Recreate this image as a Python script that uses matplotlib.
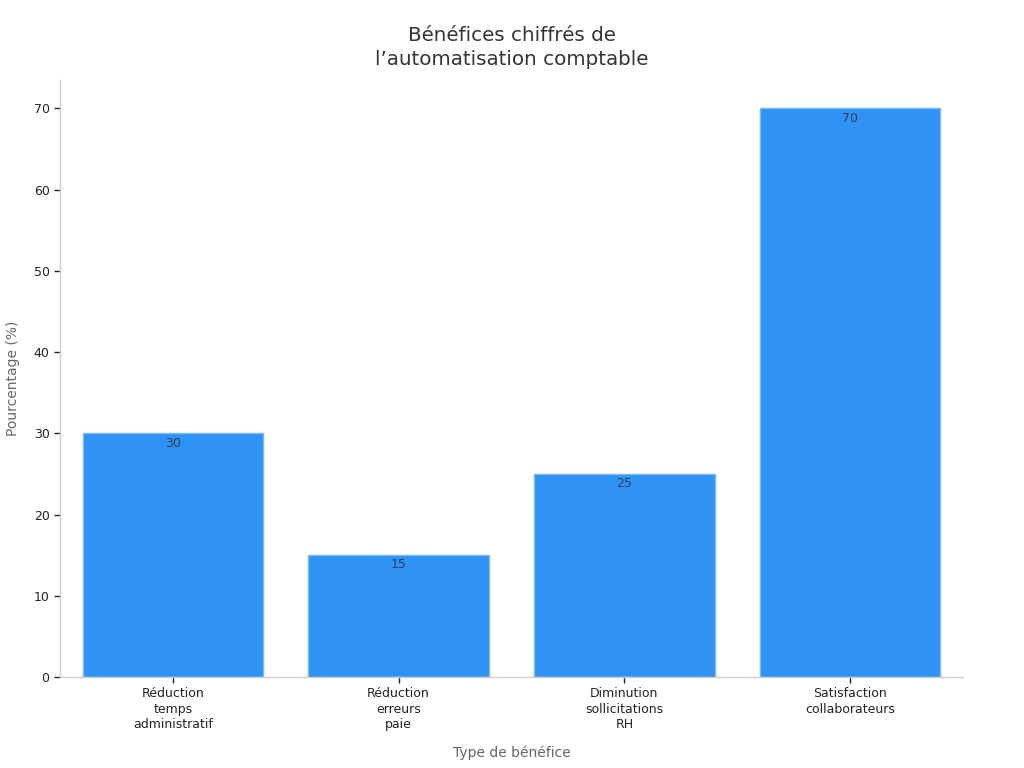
import matplotlib
matplotlib.use('Agg')
import matplotlib.pyplot as plt

categories = ['Réduction\ntemps\nadministratif', 'Réduction\nerreurs\npaie',
              'Diminution\nsollicitations\nRH', 'Satisfaction\ncollaborateurs']
values = [30, 15, 25, 70]

plt.rcParams['font.family'] = ['DejaVu Sans']

fig = plt.figure(figsize=(10.24, 7.68), dpi=100)
ax = fig.add_axes([0.0586, 0.1185, 0.8818, 0.7775])

bars = ax.bar(range(len(values)), values, width=0.8, color='#2e93f5',
              edgecolor='#7ab8f5', linewidth=1)
for b, v in zip(bars, values):
    ax.text(b.get_x() + b.get_width() / 2, v - 0.4, str(v), ha='center',
            va='top', fontsize=9, color='#2d3d55')

ax.set_xlim(-0.5, 3.5)
ax.set_ylim(0, 73.5)
ax.set_xticks(range(len(categories)))
ax.set_xticklabels(categories, fontsize=9, color='#222222', linespacing=1.25)
ax.set_yticks(range(0, 71, 10))
ax.tick_params(axis='y', labelsize=9, colors='#222222', length=4, width=1)
ax.tick_params(axis='x', length=4, width=1, colors='#222222')

for s in ['top', 'right']:
    ax.spines[s].set_visible(False)
for s in ['left', 'bottom']:
    ax.spines[s].set_color('#cccccc')
    ax.spines[s].set_linewidth(1)

ax.set_xlabel('Type de bénéfice', fontsize=10, color='#666666', labelpad=10)
ax.set_ylabel('Pourcentage (%)', fontsize=10, color='#666666', labelpad=10)
fig.suptitle('Bénéfices chiffrés de\nl\u2019automatisation comptable',
             fontsize=14.3, color='#333333', y=0.966, linespacing=1.35)

fig.savefig('out.png', dpi=100)
